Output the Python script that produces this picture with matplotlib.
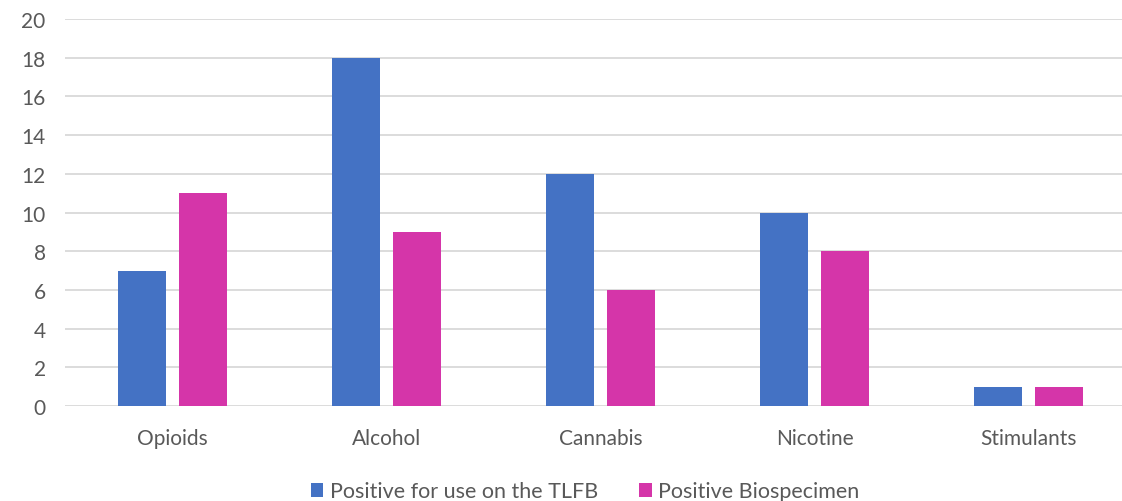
import numpy as np
import matplotlib
matplotlib.use("Agg")
import matplotlib.pyplot as plt

plt.rcParams['font.family'] = ['Lato', 'DejaVu Sans']

substances = ["Opioids", "Alcohol", "Cannabis", "Nicotine", "Stimulants"]
tlfb = [7, 18, 12, 10, 1]
biospecimen = [11, 9, 6, 8, 1]
series_names = ["Positive for use on the TLFB", "Positive Biospecimen"]

blue = "#4472C4"
magenta = "#D535A9"
grey_text = "#595959"
grid_col = "#D9D9D9"

fig = plt.figure(figsize=(11.22, 5.02), dpi=100)
ax = fig.add_axes([0.058, 0.189, 0.942, 0.771])

x = np.arange(len(substances))
w = 0.224
off = 0.1425
ax.bar(x - off, tlfb, w, color=blue, label=series_names[0], zorder=3)
ax.bar(x + off, biospecimen, w, color=magenta, label=series_names[1], zorder=3)

ax.set_xlim(-0.502, 4.435)
ax.set_ylim(0, 20)
ax.set_yticks(range(0, 21, 2))
ax.set_xticks(x)
ax.set_xticklabels(substances)
ax.yaxis.grid(True, color=grid_col, linewidth=1.3, zorder=0)
ax.set_axisbelow(True)
for s in ax.spines.values():
    s.set_visible(False)
ax.tick_params(axis='both', length=0, labelsize=15, labelcolor=grey_text)
ax.tick_params(axis='x', pad=16)
ax.tick_params(axis='y', pad=14)

ax.legend(loc='center', bbox_to_anchor=(0.492, -0.22), ncol=2, frameon=False,
          fontsize=15.5, labelcolor=grey_text, handlelength=0.6, handleheight=0.6,
          handletextpad=0.3, columnspacing=1.9)

fig.savefig("out.png", dpi=100)
